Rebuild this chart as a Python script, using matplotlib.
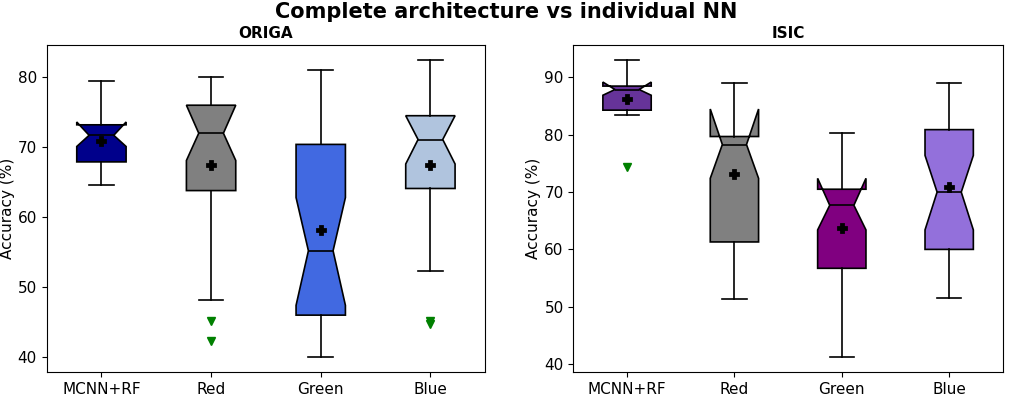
# ==========================
# Import Libraries
# ==========================

import matplotlib
matplotlib.use("Agg")
import matplotlib.pyplot as plt

# ==========================
# Data
# ==========================

labels = ["MCNN+RF", "Red", "Green", "Blue"]

# ORIGA
origa_whislo = [64.6, 48.2, 40.0, 52.3]
origa_q1 = [67.9, 63.8, 46.0, 64.1]
origa_cilo = [70.1, 68.1, 47.4, 67.6]
origa_med = [71.7, 72.0, 55.2, 71.1]
origa_cihi = [73.6, 76.0, 62.8, 74.5]
origa_q3 = [73.2, 76.0, 70.4, 74.5]
origa_whishi = [79.5, 80.0, 81.0, 82.5]
origa_mean = [70.9, 67.5, 58.2, 67.4]
origa_fliers = [[], [45.2, 42.3], [], [45.2, 44.8]]
origa_colors = ["darkblue", "grey", "royalblue", "lightsteelblue"]

# ISIC
isic_whislo = [83.5, 51.3, 41.2, 51.5]
isic_q1 = [84.3, 61.3, 56.7, 60.0]
isic_cilo = [86.9, 72.4, 63.4, 63.4]
isic_med = [87.9, 78.3, 67.7, 70.0]
isic_cihi = [89.2, 84.5, 72.4, 76.4]
isic_q3 = [88.5, 79.7, 70.5, 80.9]
isic_whishi = [93.1, 89.1, 80.4, 89.1]
isic_mean = [86.2, 73.2, 63.8, 70.9]
isic_fliers = [[74.3], [], [], []]
isic_colors = ["rebeccapurple", "grey", "purple", "mediumpurple"]


def make_stats(whislo, q1, cilo, med, cihi, q3, whishi, mean, fliers):
    stats = []
    for i in range(len(labels)):
        stats.append({
            "label": labels[i],
            "whislo": whislo[i],
            "q1": q1[i],
            "cilo": cilo[i],
            "med": med[i],
            "cihi": cihi[i],
            "q3": q3[i],
            "whishi": whishi[i],
            "mean": mean[i],
            "fliers": fliers[i],
        })
    return stats


def draw(ax, stats, colors, title):
    bp = ax.bxp(
        stats,
        shownotches=True,
        showmeans=True,
        patch_artist=True,
        boxprops=dict(edgecolor="black", linewidth=1.2),
        medianprops=dict(color="black", linewidth=1.2),
        whiskerprops=dict(color="black", linewidth=1.2),
        capprops=dict(color="black", linewidth=1.2),
        meanprops=dict(marker="P", markerfacecolor="yellow",
                       markeredgecolor="black", markersize=6,
                       markeredgewidth=2),
        flierprops=dict(marker="v", markerfacecolor="green",
                        markeredgecolor="green", markersize=6),
    )
    for patch, c in zip(bp["boxes"], colors):
        patch.set_facecolor(c)
    ax.set_title(title, fontsize=11, fontweight="bold", pad=5)
    ax.set_ylabel("Accuracy (%)", fontsize=11, labelpad=2)
    ax.tick_params(labelsize=11)


# ==========================
# Plot
# ==========================

fig = plt.figure(figsize=(10.13, 3.97), dpi=100)

ax1 = fig.add_axes([0.046, 0.063, 0.433, 0.824])
ax2 = fig.add_axes([0.566, 0.063, 0.424, 0.824])

draw(ax1, make_stats(origa_whislo, origa_q1, origa_cilo, origa_med,
                     origa_cihi, origa_q3, origa_whishi, origa_mean,
                     origa_fliers), origa_colors, "ORIGA")
draw(ax2, make_stats(isic_whislo, isic_q1, isic_cilo, isic_med,
                     isic_cihi, isic_q3, isic_whishi, isic_mean,
                     isic_fliers), isic_colors, "ISIC")

fig.suptitle("Complete architecture vs individual NN",
             fontsize=15, fontweight="bold", y=0.995)

fig.savefig("out.png", dpi=100)
